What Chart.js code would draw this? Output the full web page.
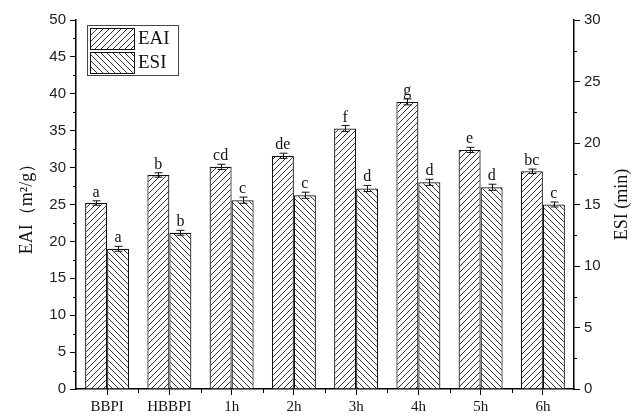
<!DOCTYPE html>
<html>
<head>
<meta charset="utf-8">
<script src="https://cdn.jsdelivr.net/npm/chart.js@4/dist/chart.umd.min.js"></script>
<style>
  body { margin: 0; background: #fff; }
  canvas { display: block; }
</style>
</head>
<body>
<canvas id="chart" width="638" height="419"></canvas>
<script>
// Data
const categories = ['BBPI', 'HBBPI', '1h', '2h', '3h', '4h', '5h', '6h'];
const eaiValues = [25.2, 29.0, 30.1, 31.6, 35.3, 38.9, 32.4, 29.5];
const eaiErrors = [0.3, 0.3, 0.35, 0.35, 0.4, 0.4, 0.35, 0.3];
const eaiLetters = ['a', 'b', 'cd', 'de', 'f', 'g', 'e', 'bc'];
const esiValues = [11.4, 12.7, 15.35, 15.75, 16.3, 16.8, 16.4, 15.0];
const esiErrors = [0.2, 0.2, 0.25, 0.25, 0.25, 0.25, 0.25, 0.2];
const esiLetters = ['a', 'b', 'c', 'c', 'd', 'd', 'd', 'c'];
const eaiMinorTicks = [2.5, 7.5, 12.5, 17.5, 22.5, 27.5, 32.5, 37.5, 42.5, 47.5];
const esiMinorTicks = [2.5, 7.5, 12.5, 17.5, 22.5, 27.5];

const SERIF = '"Liberation Serif", "Times New Roman", serif';
const SANS = '"Liberation Sans", Arial, sans-serif';

const canvas = document.getElementById('chart');
const ctx = canvas.getContext('2d');

// hatch fill, dir > 0 gives '/', otherwise '\'
function makeHatch(dir) {
    const s = 6;
    const c = document.createElement('canvas');
    c.width = s;
    c.height = s;
    const g = c.getContext('2d');
    g.fillStyle = '#fff';
    g.fillRect(0, 0, s, s);
    g.strokeStyle = '#333';
    g.lineWidth = 1;
    g.beginPath();
    if (dir > 0) {
        g.moveTo(-1, s + 1); g.lineTo(s + 1, -1);
        g.moveTo(-1, 1); g.lineTo(1, -1);
        g.moveTo(s - 1, s + 1); g.lineTo(s + 1, s - 1);
    } else {
        g.moveTo(-1, -1); g.lineTo(s + 1, s + 1);
        g.moveTo(s - 1, -1); g.lineTo(s + 1, 1);
        g.moveTo(-1, s - 1); g.lineTo(1, s + 1);
    }
    g.stroke();
    return ctx.createPattern(c, 'repeat');
}

const errors = [eaiErrors, esiErrors];
const letters = [eaiLetters, esiLetters];

// error bars, letters, minor ticks, axis titles, legend
const decorations = {
    id: 'decorations',
    afterDatasetsDraw(chart) {
        const c = chart.ctx;
        c.save();
        c.strokeStyle = '#111';
        c.lineWidth = 1;
        c.fillStyle = '#111';
        c.font = '16px ' + SERIF;
        c.textAlign = 'center';
        c.textBaseline = 'alphabetic';
        chart.data.datasets.forEach((ds, i) => {
            const meta = chart.getDatasetMeta(i);
            const scale = chart.scales[meta.yAxisID];
            meta.data.forEach((bar, j) => {
                const v = ds.data[j];
                const e = errors[i][j];
                const yTop = scale.getPixelForValue(v + e);
                const yBot = scale.getPixelForValue(v - e);
                const x = Math.round(bar.x) + 0.5;
                c.beginPath();
                c.moveTo(x, yTop); c.lineTo(x, yBot);
                c.moveTo(x - 4, yTop); c.lineTo(x + 4, yTop);
                c.moveTo(x - 4, yBot); c.lineTo(x + 4, yBot);
                c.stroke();
                c.fillText(letters[i][j], bar.x, yTop - 4);
            });
        });
        c.restore();
    },
    afterDraw(chart) {
        const c = chart.ctx;
        const {x, y, y2} = chart.scales;
        const area = chart.chartArea;
        c.save();
        c.strokeStyle = '#000';
        c.lineWidth = 1;
        c.beginPath();
        eaiMinorTicks.forEach(v => {
            const py = Math.round(y.getPixelForValue(v)) + 0.5;
            c.moveTo(area.left - 3, py); c.lineTo(area.left, py);
        });
        esiMinorTicks.forEach(v => {
            const py = Math.round(y2.getPixelForValue(v)) + 0.5;
            c.moveTo(area.right, py); c.lineTo(area.right + 3, py);
        });
        const step = (area.right - area.left) / categories.length;
        for (let k = 1; k < categories.length; k++) {
            const px = Math.round(area.left + k * step) + 0.5;
            c.moveTo(px, area.bottom); c.lineTo(px, area.bottom + 4);
        }
        c.stroke();

        // axis titles
        c.fillStyle = '#111';
        c.font = '18px ' + SERIF;
        c.textAlign = 'center';
        c.textBaseline = 'middle';
        const midY = (area.top + area.bottom) / 2;
        c.save();
        c.translate(27, midY);
        c.rotate(-Math.PI / 2);
        c.fillText('EAI（m²/g）', 0, 0);
        c.restore();
        c.save();
        c.translate(622, midY);
        c.rotate(-Math.PI / 2);
        c.fillText('ESI (min)', 0, 0);
        c.restore();

        // legend
        c.strokeStyle = '#444';
        c.lineWidth = 1;
        c.strokeRect(87.5, 25.5, 91, 50);
        chart.data.datasets.forEach((ds, i) => {
            const top = 28 + i * 24;
            c.fillStyle = ds.backgroundColor;
            c.fillRect(90, top, 44, 21);
            c.strokeStyle = '#111';
            c.strokeRect(90.5, top + 0.5, 44, 21);
            c.fillStyle = '#111';
            c.textAlign = 'left';
            c.font = '19px ' + SERIF;
            c.fillText(ds.label, 138, top + 11);
        });
        c.restore();
    }
};

const axisCommon = {
    border: { display: true, color: '#000', width: 1.5 },
    grid: { drawOnChartArea: false, tickLength: 6, color: '#000', tickWidth: 1 }
};

new Chart(ctx, {
    type: 'bar',
    data: {
        labels: categories,
        datasets: [{
            label: 'EAI',
            data: eaiValues,
            yAxisID: 'y',
            backgroundColor: makeHatch(1),
            borderColor: '#111',
            borderWidth: 1.2
        }, {
            label: 'ESI',
            data: esiValues,
            yAxisID: 'y2',
            backgroundColor: makeHatch(-1),
            borderColor: '#111',
            borderWidth: 1.2
        }]
    },
    options: {
        responsive: false,
        animation: false,
        categoryPercentage: 0.707,
        barPercentage: 1,
        layout: { padding: { top: 20, left: 0, right: 0, bottom: 0 } },
        plugins: {
            legend: { display: false },
            tooltip: { enabled: false }
        },
        scales: {
            x: {
                ...axisCommon,
                grid: { ...axisCommon.grid, offset: false },
                ticks: { color: '#111', font: { family: SERIF, size: 15 }, padding: 3, maxRotation: 0 },
                afterFit(scale) { scale.height = 30; }
            },
            y: {
                ...axisCommon,
                position: 'left',
                min: 0,
                max: 50,
                ticks: { stepSize: 5, color: '#222', font: { family: SANS, size: 15 }, padding: 4 },
                afterFit(scale) { scale.width = 76; }
            },
            y2: {
                ...axisCommon,
                position: 'right',
                min: 0,
                max: 30,
                ticks: { stepSize: 5, color: '#222', font: { family: SANS, size: 15 }, padding: 4 },
                afterFit(scale) { scale.width = 64; }
            }
        }
    },
    plugins: [decorations]
});
</script>
</body>
</html>
